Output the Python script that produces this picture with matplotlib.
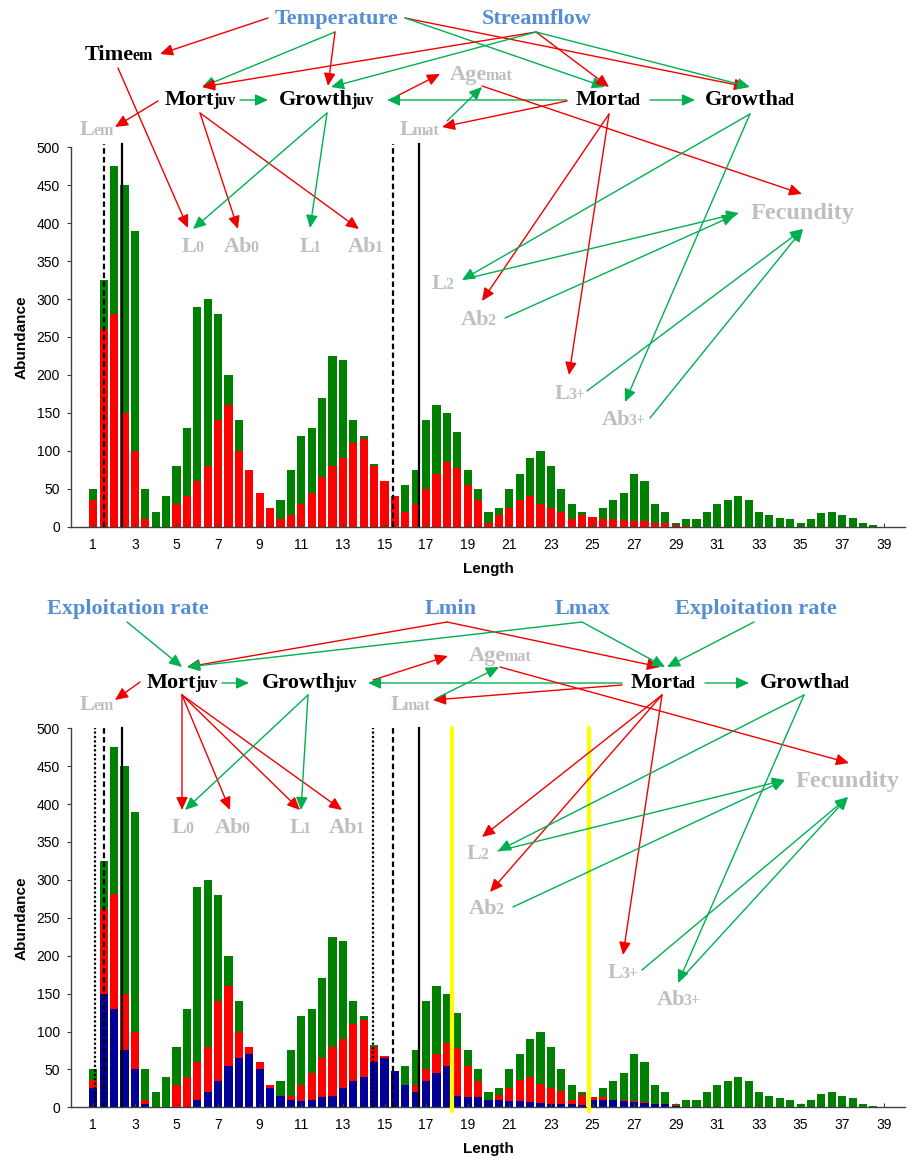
import numpy as np
import matplotlib.pyplot as plt

# length classes (half-unit bins)
lengths = np.arange(1, 39.5, 0.5)

# total abundance (green) - same in both panels
total = [50, 325, 475, 450, 390, 50, 20, 40, 80, 130,
         290, 300, 280, 200, 140, 75, 45, 25, 35, 75,
         120, 130, 170, 225, 220, 140, 120, 82, 60, 40,
         55, 75, 140, 160, 150, 125, 75, 50, 20, 25,
         50, 70, 90, 100, 80, 50, 30, 20, 13, 25,
         35, 45, 70, 60, 30, 20, 5, 10, 10, 20,
         30, 35, 40, 35, 20, 15, 12, 10, 5, 10,
         18, 20, 15, 12, 5, 2, 0]

# top panel, red series
top_red = [35, 260, 280, 150, 100, 10, 0, 0, 30, 40,
           60, 80, 140, 160, 100, 75, 45, 25, 10, 15,
           30, 45, 65, 80, 90, 110, 115, 80, 60, 40,
           20, 30, 50, 70, 85, 78, 55, 35, 5, 15,
           25, 35, 40, 30, 25, 20, 10, 15, 13, 10,
           10, 9, 8, 7, 5, 5, 2, 1, 0, 0] + [0] * 17

# bottom panel, red and blue series
bot_red = [36, 261, 281, 150, 100, 10, 0, 0, 30, 40,
           60, 80, 140, 160, 100, 80, 60, 30, 15, 15,
           30, 45, 65, 80, 90, 110, 115, 80, 68, 40,
           30, 30, 50, 70, 85, 78, 55, 35, 10, 16,
           26, 36, 40, 31, 26, 21, 10, 16, 13, 14,
           10, 10, 8, 7, 5, 4, 3, 1, 0, 0] + [0] * 17

bot_blue = [26, 150, 130, 76, 50, 5, 0, 0, 0, 0,
            10, 20, 35, 55, 65, 70, 50, 25, 15, 10,
            8, 10, 13, 15, 25, 35, 40, 60, 65, 48,
            30, 20, 35, 45, 55, 15, 13, 13, 10, 10,
            8, 8, 7, 6, 5, 4, 5, 3, 10, 10,
            9, 8, 7, 6, 5, 4, 2, 0, 0, 0] + [0] * 17

# reference lengths
top_dashed = [1.53, 15.43]
top_solid = [2.37, 16.64]
bot_dotted = [1.1, 14.43]
bot_dashed = [1.53, 15.43]
bot_solid = [2.37, 16.64]
bot_yellow = [18.24, 24.81]

GREEN_BAR = '#008000'
RED_BAR = '#ff0000'
BLUE_BAR = '#000099'
ARR_R = '#f00000'
ARR_G = '#00b050'
BLUE_TXT = '#558ed5'
GRAY = '#bfbfbf'

fig = plt.figure(figsize=(9.14, 11.58), dpi=100)
W, H = 914, 1158


def setup_axes(rect):
    ax = fig.add_axes(rect)
    ax.set_xlim(-0.07, 40.02)
    ax.set_ylim(0, 500)
    ax.set_yticks(np.arange(0, 501, 50))
    ax.set_xticks(np.arange(1, 40, 2))
    for s in ['top', 'right']:
        ax.spines[s].set_visible(False)
    for s in ['left', 'bottom']:
        ax.spines[s].set_color('#404040')
        ax.spines[s].set_linewidth(1.0)
    ax.tick_params(axis='y', direction='out', length=3, pad=5, labelsize=10, colors='#404040', labelcolor='black')
    ax.tick_params(axis='x', direction='in', length=3, pad=8, labelsize=10, colors='#404040', labelcolor='black')
    for lab in ax.get_xticklabels() + ax.get_yticklabels():
        lab.set_fontfamily('Liberation Sans')
    ax.set_ylabel('Abundance', fontsize=11, fontweight='bold', family='Liberation Sans', labelpad=6)
    ax.set_xlabel('Length', fontsize=11, fontweight='bold', family='Liberation Sans', labelpad=7)
    return ax


ax1 = setup_axes([71 / W, 1 - 526.7 / H, (905 - 71) / W, 379.4 / H])
ax1.bar(lengths, total, width=0.39, color=GREEN_BAR, linewidth=0)
ax1.bar(lengths, top_red, width=0.39, color=RED_BAR, linewidth=0)
for x in top_dashed:
    ax1.axvline(x, ymin=0, ymax=1.01, color='black', lw=1.6, ls=(0, (2.5, 1.5)), clip_on=False)
for x in top_solid:
    ax1.axvline(x, ymin=0, ymax=1.01, color='black', lw=1.6, clip_on=False)

ax2 = setup_axes([71 / W, 1 - 1107.3 / H, (905 - 71) / W, 379 / H])
ax2.bar(lengths, total, width=0.39, color=GREEN_BAR, linewidth=0)
ax2.bar(lengths, bot_red, width=0.39, color=RED_BAR, linewidth=0)
ax2.bar(lengths, bot_blue, width=0.39, color=BLUE_BAR, linewidth=0)
for x in bot_dotted:
    ax2.axvline(x, ymin=0, ymax=1.0, color='black', lw=1.6, ls=(0, (1, 1)), clip_on=False)
for x in bot_dashed:
    ax2.axvline(x, ymin=0, ymax=1.0, color='black', lw=1.6, ls=(0, (2.5, 1.5)), clip_on=False)
for x in bot_solid:
    ax2.axvline(x, ymin=0, ymax=1.0, color='black', lw=1.6, clip_on=False)
for x in bot_yellow:
    ax2.plot([x, x], [-5, 500], color='#ffff00', lw=3, clip_on=False, solid_capstyle='round', zorder=5)

# diagram overlay, in figure pixels
ov = fig.add_axes([0, 0, 1, 1], zorder=10)
ov.set_xlim(0, W)
ov.set_ylim(H, 0)
ov.axis('off')
ov.patch.set_alpha(0)


def label(x, y, main, sub='', color='black', size=16):
    t = ov.text(x, y, main, ha='left', va='center', fontsize=size, fontweight='bold',
                color=color, family='Liberation Serif')
    if sub:
        ov.annotate(sub, xy=(1, 0), xycoords=t, xytext=(-1.2, 0.5), textcoords='offset points',
                    ha='left', va='bottom', fontsize=size * 0.72,
                    fontweight='bold', color=color, family='Liberation Serif')


def arrow(x0, y0, x1, y1, color):
    ov.annotate('', xy=(x1, y1), xytext=(x0, y0),
                arrowprops=dict(arrowstyle='-|>,head_length=0.55,head_width=0.25', color=color,
                                lw=1.0, shrinkA=0, shrinkB=0, mutation_scale=14))


top_labels = [
    (275, 19, 'Temperature', '', BLUE_TXT, 16),
    (482, 19, 'Streamflow', '', BLUE_TXT, 16),
    (85, 55, 'Time', 'em', 'black', 16),
    (165, 100, 'Mort', 'juv', 'black', 16),
    (279, 100, 'Growth', 'juv', 'black', 16),
    (450, 75, 'Age', 'mat', GRAY, 16),
    (576, 100, 'Mort', 'ad', 'black', 16),
    (705, 100, 'Growth', 'ad', 'black', 16),
    (80, 130, 'L', 'em', GRAY, 16),
    (400, 130, 'L', 'mat', GRAY, 16),
    (182, 247, 'L', '0', GRAY, 16),
    (224, 247, 'Ab', '0', GRAY, 16),
    (300, 247, 'L', '1', GRAY, 16),
    (348, 247, 'Ab', '1', GRAY, 16),
    (432, 284, 'L', '2', GRAY, 16),
    (461, 320, 'Ab', '2', GRAY, 16),
    (751, 213, 'Fecundity', '', GRAY, 17.5),
    (555, 394, 'L', '3+', GRAY, 16),
    (602, 420, 'Ab', '3+', GRAY, 16),
]

bottom_labels = [
    (47, 609, 'Exploitation rate', '', BLUE_TXT, 16),
    (425, 609, 'Lmin', '', BLUE_TXT, 16),
    (555, 609, 'Lmax', '', BLUE_TXT, 16),
    (675, 609, 'Exploitation rate', '', BLUE_TXT, 16),
    (147, 683, 'Mort', 'juv', 'black', 16),
    (262, 683, 'Growth', 'juv', 'black', 16),
    (469, 656, 'Age', 'mat', GRAY, 16),
    (631, 683, 'Mort', 'ad', 'black', 16),
    (760, 683, 'Growth', 'ad', 'black', 16),
    (80, 705, 'L', 'em', GRAY, 16),
    (391, 705, 'L', 'mat', GRAY, 16),
    (172, 828, 'L', '0', GRAY, 16),
    (215, 828, 'Ab', '0', GRAY, 16),
    (290, 828, 'L', '1', GRAY, 16),
    (329, 828, 'Ab', '1', GRAY, 16),
    (467, 854, 'L', '2', GRAY, 16),
    (469, 909, 'Ab', '2', GRAY, 16),
    (796, 781, 'Fecundity', '', GRAY, 17.5),
    (608, 973, 'L', '3+', GRAY, 16),
    (657, 1000, 'Ab', '3+', GRAY, 16),
]

R, G = ARR_R, ARR_G
top_arrows = [
    (268, 18, 160, 54, R), (335, 32, 202, 87, G), (335, 32, 328, 86, R),
    (405, 18, 747, 87, R), (405, 18, 605, 87, G),
    (536, 32, 202, 87, R), (536, 32, 331, 87, G), (536, 32, 609, 87, R), (536, 32, 750, 87, G),
    (397, 96, 440, 74, R), (567, 100, 387, 100, G), (240, 100, 268, 100, G), (650, 100, 695, 100, G),
    (158, 101, 115, 127, R), (567, 101, 442, 127, R), (447, 121, 482, 87, G),
    (482, 86, 802, 194, R),
    (118, 68, 188, 228, R), (200, 113, 238, 229, R), (200, 113, 359, 229, R),
    (327, 113, 193, 229, G), (327, 113, 310, 228, G),
    (609, 114, 482, 301, R), (609, 114, 569, 375, R),
    (750, 114, 462, 280, G), (750, 114, 625, 402, G),
    (465, 279, 739, 213, G), (505, 318, 735, 215, G),
    (587, 391, 803, 229, G), (650, 418, 803, 229, G),
]

bottom_arrows = [
    (127, 622, 182, 667, G), (447, 622, 187, 667, R), (447, 622, 660, 667, R),
    (582, 622, 187, 667, G), (582, 622, 665, 667, G), (754, 622, 667, 667, G),
    (373, 680, 448, 656, R), (622, 683, 368, 683, G), (622, 685, 433, 700, R),
    (437, 698, 499, 667, G), (500, 667, 849, 763, R),
    (222, 683, 249, 683, G), (705, 683, 749, 683, G), (140, 682, 115, 700, R),
    (182, 695, 182, 810, R), (182, 695, 230, 810, R), (182, 695, 300, 810, R), (182, 695, 342, 810, R),
    (308, 695, 185, 810, G), (308, 695, 301, 810, G),
    (662, 695, 482, 837, R), (662, 695, 490, 892, R), (662, 695, 623, 955, R),
    (804, 695, 498, 851, G), (804, 695, 678, 983, G),
    (498, 851, 785, 780, G), (513, 907, 785, 780, G),
    (642, 970, 848, 797, G), (680, 980, 848, 797, G),
]

for x, y, m, s, c, fs in top_labels + bottom_labels:
    label(x, y, m, s, c, fs)
for x0, y0, x1, y1, c in top_arrows + bottom_arrows:
    arrow(x0, y0, x1, y1, c)

fig.savefig('out.png', dpi=100)
